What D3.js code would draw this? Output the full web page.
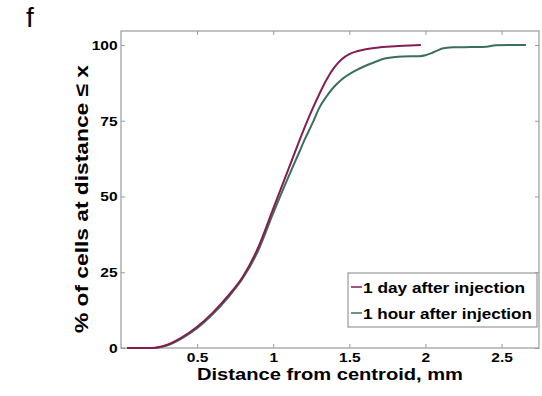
<!DOCTYPE html>
<html>
  <head>
    <meta charset="utf-8">
    <script src="https://d3js.org/d3.v7.min.js"></script>
    <style>
      body { margin: 0; background: #fff; }
    </style>
  </head>
  <body>
    <div id="chart"></div>
    <script>
      // data (distance in mm, cumulative %)
      var dayX = [0.04, 0.1, 0.2, 0.25, 0.3, 0.4, 0.5, 0.6, 0.7, 0.8, 0.9, 1.0, 1.1, 1.2, 1.25, 1.3, 1.35, 1.4, 1.45, 1.5, 1.55, 1.6, 1.7, 1.8, 1.9, 1.97];
      var dayY = [0, 0, 0, 0.3, 1, 3.5, 7, 11.5, 17, 23.5, 33, 46, 59, 72, 78, 83.5, 88.5, 92.5, 95.3, 97, 97.9, 98.5, 99.2, 99.6, 99.8, 100];
      var hourX = [0.04, 0.1, 0.2, 0.25, 0.3, 0.4, 0.5, 0.6, 0.7, 0.8, 0.9, 1.0, 1.1, 1.17, 1.2, 1.27, 1.3, 1.35, 1.4, 1.45, 1.55, 1.65, 1.74, 1.85, 1.96, 2.0, 2.04, 2.08, 2.11, 2.18, 2.3, 2.4, 2.46, 2.55, 2.66];
      var hourY = [0, 0, 0, 0.2, 0.8, 3.2, 6.5, 11, 16.5, 23, 32, 44.5, 56.5, 64.5, 68, 75.5, 79, 83, 86.2, 88.6, 91.8, 94, 95.6, 96.2, 96.3, 96.6, 97.3, 98.2, 98.8, 99.2, 99.3, 99.4, 99.9, 100, 100];
      var xTicks = [0.5, 1, 1.5, 2, 2.5];
      var yTicks = [0, 25, 50, 75, 100];
      var seriesNames = ["1 day after injection", "1 hour after injection"];
      var seriesColors = ["#861d52", "#3b6f5d"];

      var W = 542, H = 396;
      var margin = {top: 31, right: 3, bottom: 48, left: 121};
      var width = W - margin.left - margin.right,
          height = H - margin.top - margin.bottom;

      var svg = d3.select("#chart").append("svg")
          .attr("width", W).attr("height", H)
          .style("font-family", "Arial, 'Liberation Sans', sans-serif");

      var g = svg.append("g")
          .attr("transform", "translate(" + margin.left + "," + margin.top + ")");

      var x = d3.scaleLinear().domain([0, 2.746]).range([0, width]);
      var y = d3.scaleLinear().domain([0, 104.6]).range([height, 0]);

      // axes with inward ticks (matlab style box)
      var axisColor = "#9a9a9a";
      function styleAxis(sel, showText) {
        sel.select(".domain").remove();
        sel.selectAll("line").attr("stroke", axisColor);
        sel.selectAll("text")
          .attr("fill", "#000")
          .attr("font-size", 13.5)
          .attr("font-weight", "bold")
          .attr("transform", "scale(1.15,1)")
          .style("display", showText ? null : "none");
      }

      g.append("g")
        .attr("transform", "translate(0," + height + ")")
        .call(d3.axisBottom(x).tickValues(xTicks).tickFormat(d3.format("")).tickSizeInner(-4).tickPadding(4))
        .call(styleAxis, true);
      g.append("g")
        .call(d3.axisTop(x).tickValues(xTicks).tickSizeInner(-4))
        .call(styleAxis, false);
      g.append("g")
        .call(d3.axisLeft(y).tickValues(yTicks).tickSizeInner(-4).tickPadding(3))
        .call(styleAxis, true);
      g.append("g")
        .attr("transform", "translate(" + width + ",0)")
        .call(d3.axisRight(y).tickValues(yTicks).tickSizeInner(-4))
        .call(styleAxis, false);

      g.append("rect")
        .attr("width", width).attr("height", height)
        .attr("fill", "none")
        .attr("stroke", axisColor)
        .attr("stroke-width", 1.2);

      // curves
      var line = d3.line()
        .x(function(d) { return x(d[0]); })
        .y(function(d) { return y(d[1]); })
        .curve(d3.curveMonotoneX);

      var hour = d3.zip(hourX, hourY);
      var day = d3.zip(dayX, dayY);

      g.append("path").datum(hour)
        .attr("fill", "none").attr("stroke", seriesColors[1]).attr("stroke-width", 2)
        .attr("d", line);
      g.append("path").datum(day)
        .attr("fill", "none").attr("stroke", seriesColors[0]).attr("stroke-width", 2)
        .attr("d", line);

      // legend
      var leg = svg.append("g").attr("transform", "translate(348,273)");
      leg.append("rect")
        .attr("width", 189).attr("height", 54)
        .attr("fill", "#fff").attr("stroke", "#9a9a9a").attr("stroke-width", 1.2);
      var legLen = [162, 169];
      seriesNames.forEach(function(name, i) {
        var yy = 14 + i * 26;
        leg.append("line")
          .attr("x1", 3).attr("x2", 14).attr("y1", yy).attr("y2", yy)
          .attr("stroke", seriesColors[i]).attr("stroke-width", 1.5);
        leg.append("text")
          .attr("x", 15).attr("y", yy + 5.5)
          .attr("font-size", 15.5).attr("font-weight", "bold")
          .attr("textLength", legLen[i]).attr("lengthAdjust", "spacingAndGlyphs")
          .text(name);
      });

      // labels
      svg.append("text")
        .attr("x", 197).attr("y", 380)
        .attr("font-size", 17).attr("font-weight", "bold")
        .attr("textLength", 266).attr("lengthAdjust", "spacingAndGlyphs")
        .text("Distance from centroid, mm");

      svg.append("text")
        .attr("transform", "translate(88,199) rotate(-90)")
        .attr("x", -134)
        .attr("font-size", 19).attr("font-weight", "bold")
        .attr("textLength", 268).attr("lengthAdjust", "spacingAndGlyphs")
        .text("% of cells at distance ≤ x");

      svg.append("text")
        .attr("x", 26).attr("y", 27)
        .attr("font-size", 28)
        .text("f");
    </script>
  </body>
</html>
